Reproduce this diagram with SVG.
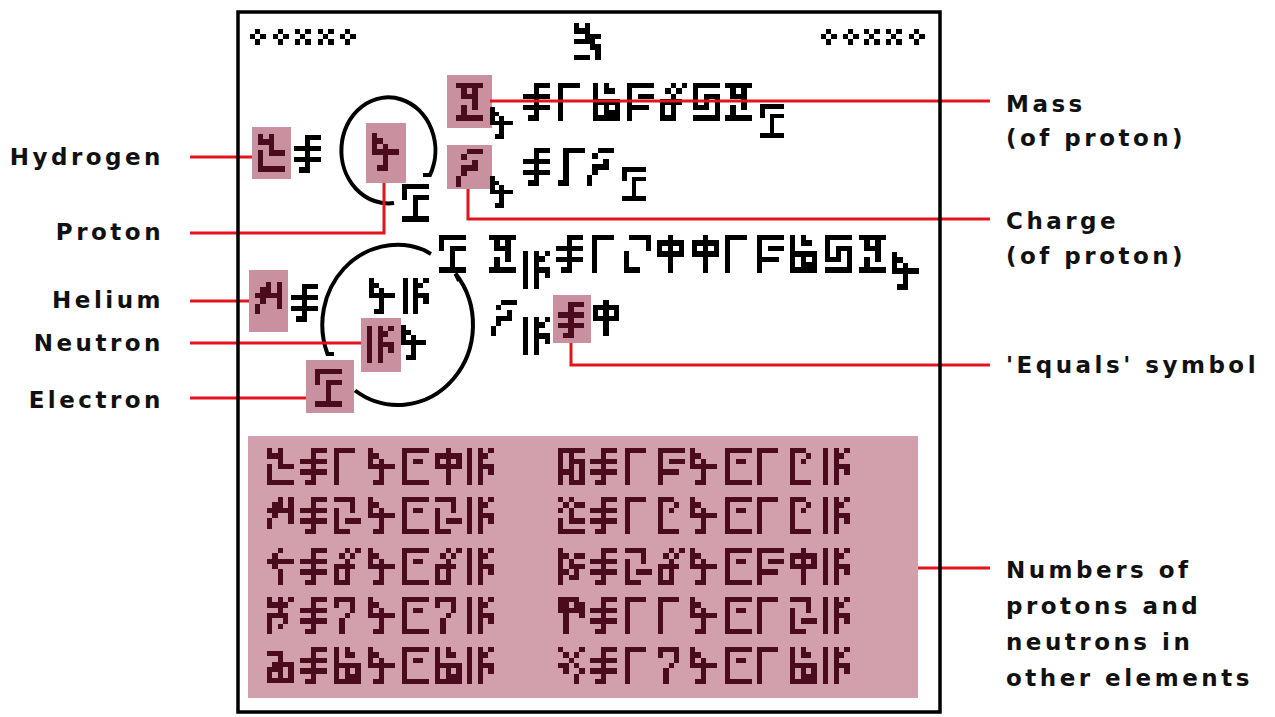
<svg xmlns="http://www.w3.org/2000/svg" width="1275" height="717" viewBox="0 0 1275 717">
<style>
.k{fill:#000}
.m{fill:#4a0b1e}
.hl{fill:#c9919f}
.panel{fill:#d1a0ac}
.cn{fill:none;stroke:#e3141b;stroke-width:3}
.orb{fill:none;stroke:#000;stroke-width:4}
.lb{font-family:"DejaVu Sans","Liberation Sans",sans-serif;font-weight:bold;font-size:23px;letter-spacing:3.5px;fill:#111}
.r{text-anchor:end}
</style>
<defs>
<path id="EQ" shape-rendering="crispEdges" d="M2 0h1v7h-1z M3 0h2v1h-2z M0 2h5v1h-5z M0 4h5v1h-5z M1 6h1v1h-1z"/>
<path id="G" shape-rendering="crispEdges" d="M0 0h4v1h-4z M0 1h1v6h-1z"/>
<path id="P" shape-rendering="crispEdges" d="M0 0h1v4h-1z M1 1h1v1h-1z M2 2h1v5h-1z M0 3h5v1h-5z M1 6h1v1h-1z"/>
<path id="E" shape-rendering="crispEdges" d="M0 0h5v1h-5z M0 1h1v5h-1z M0 6h5v1h-5z M2 2h2v1h-2z"/>
<path id="PHI" shape-rendering="crispEdges" d="M2 0h1v7h-1z M0 1h5v1h-5z M0 2h1v1h-1z M4 2h1v1h-1z M0 3h5v1h-5z"/>
<path id="N" shape-rendering="crispEdges" d="M0 0h1v7h-1z M2 0h1v7h-1z M3 1h1v1h-1z M4 0h1v1h-1z M3 3h2v1h-2z M4 4h1v1h-1z"/>
<path id="D2" shape-rendering="crispEdges" d="M0 0h4v1h-4z M3 1h1v2h-1z M0 2h1v5h-1z M2 4h3v1h-3z M1 6h2v1h-2z"/>
<path id="D2b" shape-rendering="crispEdges" d="M1 0h4v1h-4z M4 1h1v2h-1z M0 3h1v4h-1z M1 6h2v1h-2z"/>
<path id="D3" shape-rendering="crispEdges" d="M2 0h1v1h-1z M4 0h1v1h-1z M1 1h1v1h-1z M3 1h1v1h-1z M2 2h1v5h-1z M0 3h4v1h-4z M0 4h1v3h-1z M1 6h1v1h-1z"/>
<path id="D7" shape-rendering="crispEdges" d="M0 0h4v1h-4z M0 1h1v1h-1z M3 1h1v2h-1z M2 3h1v1h-1z M1 4h1v3h-1z"/>
<path id="D5" shape-rendering="crispEdges" d="M0 0h1v7h-1z M2 0h1v2h-1z M3 1h1v1h-1z M1 3h4v1h-4z M2 4h1v2h-1z M4 4h1v2h-1z M3 5h1v1h-1z M1 6h4v1h-4z"/>
<path id="FEQ" shape-rendering="crispEdges" d="M0 0h5v1h-5z M0 1h1v6h-1z M2 2h3v1h-3z M1 4h3v1h-3z"/>
<path id="EP" shape-rendering="crispEdges" d="M0 0h3v1h-3z M0 1h1v6h-1z M3 1h1v1h-1z M2 2h1v1h-1z M1 6h3v1h-3z"/>
<path id="J" shape-rendering="crispEdges" d="M1 0h4v1h-4z M1 1h1v6h-1z M0 6h1v1h-1z"/>
<path id="EL" shape-rendering="crispEdges" d="M0 0h5v1h-5z M0 1h1v2h-1z M2 2h3v1h-3z M2 3h1v3h-1z M0 6h5v1h-5z"/>
<path id="MASS" shape-rendering="crispEdges" d="M0 0h5v1h-5z M1 1h1v2h-1z M3 1h1v4h-1z M2 2h1v1h-1z M1 4h1v2h-1z M0 6h5v1h-5z"/>
<path id="CHG" shape-rendering="crispEdges" d="M2 0h3v1h-3z M1 1h1v1h-1z M3 2h1v2h-1z M1 3h2v1h-2z M1 4h1v1h-1z M0 5h1v2h-1z"/>
<path id="H" shape-rendering="crispEdges" d="M0 0h1v2h-1z M2 0h1v4h-1z M1 1h1v1h-1z M3 3h2v1h-2z M0 3h1v4h-1z M1 6h4v1h-4z"/>
<path id="HE" shape-rendering="crispEdges" d="M2 0h1v1h-1z M4 0h1v5h-1z M1 1h2v1h-2z M0 2h4v1h-4z M1 3h1v1h-1z M0 4h1v2h-1z"/>
<path id="LI" shape-rendering="crispEdges" d="M2 0h1v1h-1z M1 1h1v1h-1z M0 2h5v1h-5z M1 3h1v1h-1z M2 4h1v3h-1z"/>
<path id="BE" shape-rendering="crispEdges" d="M0 0h1v2h-1z M2 0h1v4h-1z M4 0h1v1h-1z M1 1h1v1h-1z M3 1h1v1h-1z M0 3h2v1h-2z M3 3h1v2h-1z M0 4h1v3h-1z M2 5h1v1h-1z"/>
<path id="B" shape-rendering="crispEdges" d="M0 0h3v1h-3z M2 1h1v5h-1z M1 2h1v1h-1z M3 2h2v1h-2z M4 3h1v3h-1z M0 3h2v1h-2z M0 4h1v2h-1z M1 5h1v1h-1z M3 5h1v1h-1z"/>
<path id="C" shape-rendering="crispEdges" d="M0 0h5v1h-5z M0 1h1v6h-1z M2 1h1v6h-1z M3 2h2v1h-2z M4 3h1v4h-1z M1 4h1v1h-1z M3 6h1v1h-1z"/>
<path id="NI" shape-rendering="crispEdges" d="M0 0h1v1h-1z M2 0h1v1h-1z M1 1h1v1h-1z M3 1h2v1h-2z M0 2h1v1h-1z M2 2h1v3h-1z M0 4h1v3h-1z M3 4h2v1h-2z M1 6h4v1h-4z"/>
<path id="O" shape-rendering="crispEdges" d="M0 0h1v7h-1z M1 1h1v1h-1z M3 1h2v1h-2z M2 2h1v2h-1z M3 3h2v1h-2z M1 4h1v1h-1z M3 4h1v2h-1z M2 5h1v1h-1z"/>
<path id="F" shape-rendering="crispEdges" d="M0 0h4v1h-4z M0 1h1v2h-1z M1 1h1v6h-1z M3 1h2v1h-2z M2 2h3v1h-3z M4 3h1v1h-1z"/>
<path id="NE" shape-rendering="crispEdges" d="M0 0h1v1h-1z M4 0h1v1h-1z M1 1h1v1h-1z M3 1h1v1h-1z M2 2h1v1h-1z M0 3h2v1h-2z M3 3h1v1h-1z M1 4h1v1h-1z M4 4h1v1h-1z M3 5h1v2h-1z"/>
<path id="Q" shape-rendering="crispEdges" d="M0 0h5v1h-5z M0 1h1v4h-1z M2 2h3v1h-3z M2 3h1v1h-1z M4 3h1v3h-1z M1 4h2v1h-2z M0 6h5v1h-5z"/>
<path id="TOP" shape-rendering="crispEdges" d="M0 0h1v2h-1z M2 0h1v3h-1z M1 1h1v1h-1z M3 2h2v1h-2z M0 3h4v1h-4z M3 4h2v1h-2z M4 5h1v2h-1z M0 6h3v1h-3z"/>
<path id="OR" shape-rendering="crispEdges" d="M1 0h1v1h-1z M0 1h1v1h-1z M2 1h1v1h-1z M1 2h1v1h-1z"/>
<path id="OX" shape-rendering="crispEdges" d="M0 0h1v1h-1z M2 0h1v1h-1z M1 1h1v1h-1z M0 2h1v1h-1z M2 2h1v1h-1z"/>
</defs>
<rect width="1275" height="717" fill="#fff"/>

<g id="header">
<use href="#OR" class="k" transform="translate(250 29) scale(5.2)"/>
<use href="#OR" class="k" transform="translate(273 29) scale(5.2)"/>
<use href="#OX" class="k" transform="translate(295 29) scale(5.2)"/>
<use href="#OX" class="k" transform="translate(318 29) scale(5.2)"/>
<use href="#OR" class="k" transform="translate(340 29) scale(5.2)"/>
<use href="#TOP" class="k" transform="translate(574 23) scale(5.3)"/>
<use href="#OR" class="k" transform="translate(821 29) scale(5.2)"/>
<use href="#OR" class="k" transform="translate(843 29) scale(5.2)"/>
<use href="#OX" class="k" transform="translate(864 29) scale(5.2)"/>
<use href="#OX" class="k" transform="translate(886 29) scale(5.2)"/>
<use href="#OR" class="k" transform="translate(909 29) scale(5.2)"/>
</g>

<g id="mass-row">
<rect class="hl" x="447" y="75" width="45" height="53"/>
<use href="#MASS" class="m" transform="translate(456 83) scale(5.4)"/>
<use href="#P" class="k" transform="translate(490 107) scale(4.5)"/>
<use href="#EQ" class="k" transform="translate(523 83) scale(5.4)"/>
<use href="#G" class="k" transform="translate(558 83) scale(5.4)"/>
<use href="#D5" class="k" transform="translate(593 83) scale(5.4)"/>
<use href="#FEQ" class="k" transform="translate(627 83) scale(5.4)"/>
<use href="#D3" class="k" transform="translate(660 83) scale(5.4)"/>
<use href="#Q" class="k" transform="translate(693 83) scale(5.4)"/>
<use href="#MASS" class="k" transform="translate(725 83) scale(5.4)"/>
<use href="#EL" class="k" transform="translate(760 104) scale(4.8)"/>
</g>

<g id="charge-row">
<rect class="hl" x="447" y="145" width="45" height="44"/>
<use href="#CHG" class="m" transform="translate(456 149) scale(5.4)"/>
<use href="#P" class="k" transform="translate(490 176) scale(4.5)"/>
<use href="#EQ" class="k" transform="translate(523 148) scale(5.4)"/>
<use href="#J" class="k" transform="translate(558 148) scale(5.4)"/>
<use href="#CHG" class="k" transform="translate(587 148) scale(5.4)"/>
<use href="#EL" class="k" transform="translate(622 167) scale(4.8)"/>
</g>

<g id="hydrogen">
<rect class="hl" x="252" y="127" width="39" height="52"/>
<use href="#H" class="m" transform="translate(258 134) scale(5.4)"/>
<use href="#EQ" class="k" transform="translate(294 135) scale(5.4)"/>
<path class="orb" d="M423 175 H430 A47 53 0 1 0 394 203"/>
<rect class="hl" x="366" y="123" width="40" height="60"/>
<use href="#P" class="m" transform="translate(372 133) scale(5.4)"/>
<use href="#EL" class="k" transform="translate(402 184) scale(5.4)"/>
</g>

<g id="helium">
<rect class="hl" x="249" y="270" width="39" height="62"/>
<use href="#HE" class="m" transform="translate(255 282) scale(5.4)"/>
<use href="#EQ" class="k" transform="translate(291 284) scale(5.4)"/>
<path class="orb" d="M334 354 H327.5 A75 80 0 0 1 424 250 L431 254"/>
<path class="orb" d="M459 281 L455.5 273.6 A75 80 0 0 1 355 390.5"/>
<use href="#EL" class="k" transform="translate(439 235) scale(5.4)"/>
<use href="#P" class="k" transform="translate(369 278) scale(5.1)"/>
<use href="#N" class="k" transform="translate(403 278) scale(5.1)"/>
<rect class="hl" x="361" y="318" width="40" height="54"/>
<use href="#N" class="m" transform="translate(367 326) scale(5.3)"/>
<use href="#P" class="k" transform="translate(401 325) scale(5.0)"/>
<rect class="hl" x="306" y="360" width="48" height="53"/>
<use href="#EL" class="m" transform="translate(315 369) scale(5.4)"/>
</g>

<g id="helium-formula">
<use href="#MASS" class="k" transform="translate(489 235) scale(5.4)"/>
<use href="#N" class="k" transform="translate(523 251) scale(5.4)"/>
<use href="#EQ" class="k" transform="translate(556 235) scale(5.4)"/>
<use href="#G" class="k" transform="translate(592 235) scale(5.4)"/>
<use href="#D2b" class="k" transform="translate(624 235) scale(5.4)"/>
<use href="#PHI" class="k" transform="translate(657 235) scale(5.4)"/>
<use href="#PHI" class="k" transform="translate(692 235) scale(5.4)"/>
<use href="#G" class="k" transform="translate(725 235) scale(5.4)"/>
<use href="#FEQ" class="k" transform="translate(757 235) scale(5.4)"/>
<use href="#D5" class="k" transform="translate(790 235) scale(5.4)"/>
<use href="#Q" class="k" transform="translate(825 235) scale(5.4)"/>
<use href="#MASS" class="k" transform="translate(859 235) scale(5.4)"/>
<use href="#P" class="k" transform="translate(892 252) scale(5.4)"/>
<use href="#CHG" class="k" transform="translate(491 300) scale(5.2)"/>
<use href="#N" class="k" transform="translate(523 317) scale(5.4)"/>
<rect class="hl" x="553" y="295" width="38" height="48"/>
<use href="#EQ" class="m" transform="translate(558 302) scale(5.2)"/>
<use href="#PHI" class="k" transform="translate(593 300) scale(5.2)"/>
</g>

<g id="elements-table">
<rect class="panel" x="248" y="436" width="670" height="262"/>
<g class="m">
<use href="#H" transform="translate(267 448) scale(5.3)"/>
<use href="#EQ" transform="translate(300 448) scale(5.3)"/>
<use href="#G" transform="translate(334 448) scale(5.3)"/>
<use href="#P" transform="translate(368 448) scale(5.3)"/>
<use href="#E" transform="translate(402 448) scale(5.3)"/>
<use href="#PHI" transform="translate(435 448) scale(5.3)"/>
<use href="#N" transform="translate(467 448) scale(5.3)"/>

<use href="#HE" transform="translate(267 497) scale(5.3)"/>
<use href="#EQ" transform="translate(300 497) scale(5.3)"/>
<use href="#D2" transform="translate(334 497) scale(5.3)"/>
<use href="#P" transform="translate(368 497) scale(5.3)"/>
<use href="#E" transform="translate(402 497) scale(5.3)"/>
<use href="#D2" transform="translate(435 497) scale(5.3)"/>
<use href="#N" transform="translate(467 497) scale(5.3)"/>

<use href="#LI" transform="translate(267 548) scale(5.3)"/>
<use href="#EQ" transform="translate(300 548) scale(5.3)"/>
<use href="#D3" transform="translate(334 548) scale(5.3)"/>
<use href="#P" transform="translate(368 548) scale(5.3)"/>
<use href="#E" transform="translate(402 548) scale(5.3)"/>
<use href="#D3" transform="translate(435 548) scale(5.3)"/>
<use href="#N" transform="translate(467 548) scale(5.3)"/>

<use href="#BE" transform="translate(267 597) scale(5.3)"/>
<use href="#EQ" transform="translate(300 597) scale(5.3)"/>
<use href="#D7" transform="translate(334 597) scale(5.3)"/>
<use href="#P" transform="translate(368 597) scale(5.3)"/>
<use href="#E" transform="translate(402 597) scale(5.3)"/>
<use href="#D7" transform="translate(435 597) scale(5.3)"/>
<use href="#N" transform="translate(467 597) scale(5.3)"/>

<use href="#B" transform="translate(267 651) scale(5.3)"/>
<use href="#EQ" transform="translate(300 647) scale(5.3)"/>
<use href="#D5" transform="translate(334 647) scale(5.3)"/>
<use href="#P" transform="translate(368 647) scale(5.3)"/>
<use href="#E" transform="translate(402 647) scale(5.3)"/>
<use href="#D5" transform="translate(435 647) scale(5.3)"/>
<use href="#N" transform="translate(467 647) scale(5.3)"/>

<use href="#C" transform="translate(558 448) scale(5.3)"/>
<use href="#EQ" transform="translate(590 448) scale(5.3)"/>
<use href="#G" transform="translate(625 448) scale(5.3)"/>
<use href="#FEQ" transform="translate(658 448) scale(5.3)"/>
<use href="#P" transform="translate(690 448) scale(5.3)"/>
<use href="#E" transform="translate(725 448) scale(5.3)"/>
<use href="#G" transform="translate(757 448) scale(5.3)"/>
<use href="#EP" transform="translate(790 448) scale(5.3)"/>
<use href="#N" transform="translate(823 448) scale(5.3)"/>

<use href="#NI" transform="translate(558 497) scale(5.3)"/>
<use href="#EQ" transform="translate(590 497) scale(5.3)"/>
<use href="#G" transform="translate(625 497) scale(5.3)"/>
<use href="#EP" transform="translate(658 497) scale(5.3)"/>
<use href="#P" transform="translate(690 497) scale(5.3)"/>
<use href="#E" transform="translate(725 497) scale(5.3)"/>
<use href="#G" transform="translate(757 497) scale(5.3)"/>
<use href="#EP" transform="translate(790 497) scale(5.3)"/>
<use href="#N" transform="translate(823 497) scale(5.3)"/>

<use href="#O" transform="translate(558 548) scale(5.3)"/>
<use href="#EQ" transform="translate(590 548) scale(5.3)"/>
<use href="#D2" transform="translate(625 548) scale(5.3)"/>
<use href="#D3" transform="translate(658 548) scale(5.3)"/>
<use href="#P" transform="translate(690 548) scale(5.3)"/>
<use href="#E" transform="translate(725 548) scale(5.3)"/>
<use href="#FEQ" transform="translate(757 548) scale(5.3)"/>
<use href="#PHI" transform="translate(790 548) scale(5.3)"/>
<use href="#N" transform="translate(823 548) scale(5.3)"/>

<use href="#F" transform="translate(558 597) scale(5.3)"/>
<use href="#EQ" transform="translate(590 597) scale(5.3)"/>
<use href="#G" transform="translate(625 597) scale(5.3)"/>
<use href="#G" transform="translate(658 597) scale(5.3)"/>
<use href="#P" transform="translate(690 597) scale(5.3)"/>
<use href="#E" transform="translate(725 597) scale(5.3)"/>
<use href="#G" transform="translate(757 597) scale(5.3)"/>
<use href="#D2" transform="translate(790 597) scale(5.3)"/>
<use href="#N" transform="translate(823 597) scale(5.3)"/>

<use href="#NE" transform="translate(558 647) scale(5.3)"/>
<use href="#EQ" transform="translate(590 647) scale(5.3)"/>
<use href="#G" transform="translate(625 647) scale(5.3)"/>
<use href="#D7" transform="translate(658 647) scale(5.3)"/>
<use href="#P" transform="translate(690 647) scale(5.3)"/>
<use href="#E" transform="translate(725 647) scale(5.3)"/>
<use href="#G" transform="translate(757 647) scale(5.3)"/>
<use href="#D5" transform="translate(790 647) scale(5.3)"/>
<use href="#N" transform="translate(823 647) scale(5.3)"/>
</g>
</g>

<g id="connectors">
<path class="cn" d="M190 157 H252"/>
<path class="cn" d="M190 233 H384 V183"/>
<path class="cn" d="M190 301 H249"/>
<path class="cn" d="M190 343 H361"/>
<path class="cn" d="M190 398 H306"/>
<path class="cn" d="M490 101 H990"/>
<path class="cn" d="M468 189 V219 H990"/>
<path class="cn" d="M571 343 V365 H990"/>
<path class="cn" d="M918 568 H990"/>
</g>

<rect id="frame" x="238" y="12" width="702" height="700" fill="none" stroke="#000" stroke-width="3.5"/>

<g id="labels-left">
<text class="lb r" x="164" y="165">Hydrogen</text>
<text class="lb r" x="164" y="240">Proton</text>
<text class="lb r" x="164" y="308">Helium</text>
<text class="lb r" x="164" y="351">Neutron</text>
<text class="lb r" x="164" y="408">Electron</text>
</g>
<g id="labels-right">
<text class="lb" x="1006" y="112">Mass</text>
<text class="lb" x="1006" y="146">(of proton)</text>
<text class="lb" x="1006" y="229">Charge</text>
<text class="lb" x="1006" y="264">(of proton)</text>
<text class="lb" x="1006" y="373">'Equals' symbol</text>
<text class="lb" x="1006" y="578">Numbers of</text>
<text class="lb" x="1006" y="614">protons and</text>
<text class="lb" x="1006" y="650">neutrons in</text>
<text class="lb" x="1006" y="686">other elements</text>
</g>
</svg>
